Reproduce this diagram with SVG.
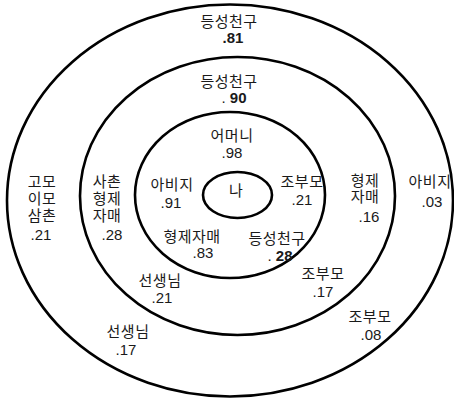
<svg xmlns="http://www.w3.org/2000/svg" width="454" height="400" viewBox="0 0 454 400">
<style>
.ring{fill:none;stroke:#000;stroke-width:2.6}
text{font-family:"Liberation Sans","Noto Sans CJK KR",sans-serif;font-size:15px;fill:#1a1a1a;text-anchor:middle}
.k{letter-spacing:0.5px}
.b{font-weight:bold}
</style>
<rect width="454" height="400" fill="#fff"/>
<g id="rings">
<ellipse id="ring4" class="ring" cx="230" cy="200.5" rx="223" ry="196"/>
<ellipse id="ring3" class="ring" cx="237.5" cy="196" rx="157.5" ry="139"/>
<ellipse id="ring2" class="ring" cx="230" cy="195" rx="95" ry="83"/>
<ellipse id="ring1" class="ring" cx="237.5" cy="195" rx="34.5" ry="23"/>
</g>
<g id="me"><text x="236" y="196">나</text></g>
<g id="mother"><text class="k" x="232" y="141">어머니</text><text x="232" y="158">.98</text></g>
<g id="father-in"><text class="k" x="172" y="190">아비지</text><text x="171" y="208">.91</text></g>
<g id="grand-in"><text class="k" x="302" y="187">조부모</text><text x="302" y="205">.21</text></g>
<g id="sib-in"><text class="k" x="192" y="242">형제자매</text><text x="203" y="258">.83</text></g>
<g id="friend-in"><text class="k" x="277" y="244">등성천구</text><text x="280" y="261">. <tspan class="b">28</tspan></text></g>
<g id="friend-mid"><text class="k" x="229" y="87">등성천구</text><text x="234" y="103">. <tspan class="b">90</tspan></text></g>
<g id="sib-mid"><text class="k" x="365" y="186">형제</text><text class="k" x="365" y="202">자매</text><text x="369" y="222">.16</text></g>
<g id="cousin"><text class="k" x="107" y="187">사촌</text><text class="k" x="107" y="204">형제</text><text class="k" x="107" y="221">자매</text><text x="112" y="240">.28</text></g>
<g id="teacher-mid"><text class="k" x="160" y="286">선생님</text><text x="162" y="303">.21</text></g>
<g id="grand-mid"><text class="k" x="323" y="279">조부모</text><text x="323" y="297">.17</text></g>
<g id="friend-out"><text class="k" x="229" y="27">등성천구</text><text class="b" x="233" y="43">.81</text></g>
<g id="father-out"><text class="k" x="430" y="187">아비지</text><text x="432" y="207">.03</text></g>
<g id="relatives"><text class="k" x="42" y="187">고모</text><text class="k" x="42" y="204">이모</text><text class="k" x="42" y="221">삼촌</text><text x="41" y="240">.21</text></g>
<g id="teacher-out"><text class="k" x="128" y="337">선생님</text><text x="126" y="355">.17</text></g>
<g id="grand-out"><text class="k" x="370" y="322">조부모</text><text x="371" y="340">.08</text></g>
</svg>
